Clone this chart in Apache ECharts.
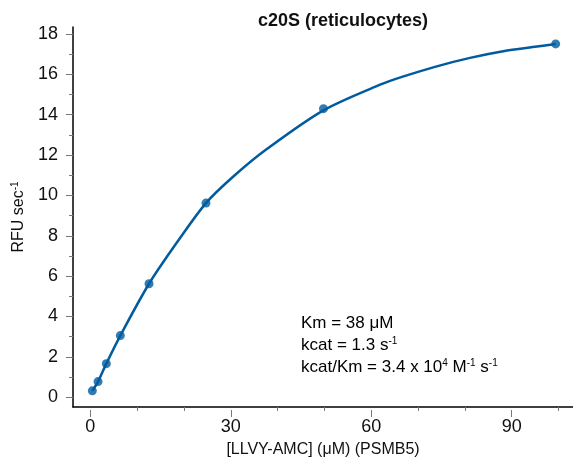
<!DOCTYPE html>
<html>
<head>
<meta charset="utf-8">
<script src="https://cdn.jsdelivr.net/npm/echarts@6/dist/echarts.min.js"></script>
<style>html,body{margin:0;padding:0;background:#fff;}#chart{width:573px;height:463px;}</style>
</head>
<body>
<div id="chart"></div>
<script>
// Measured substrate concentrations (µM) and rates (RFU/s)
const concentrations = [0.43, 1.65, 3.42, 6.41, 12.54, 24.7, 49.8, 99.4];
const rates = [0.31, 0.77, 1.66, 3.05, 5.62, 9.62, 14.30, 17.51];
// Fitted curve
const fitX = [0.43, 1.65, 3.42, 6.41, 12.54, 18.6, 24.7, 30.6, 37.7, 49.8, 61.9, 66.9, 74.0, 81.1, 88.2, 95.4, 99.4];
const fitY = [0.31, 0.77, 1.66, 3.05, 5.62, 7.7, 9.62, 10.95, 12.3, 14.22, 15.49, 15.9, 16.4, 16.82, 17.15, 17.38, 17.51];
// Tick values
const xMajorTicks = [0, 30, 60, 90];
const xMajorStep = 30;
const xMinorTicks = [10, 20, 40, 50, 70, 80, 100];
const yMajorTicks = [0, 2, 4, 6, 8, 10, 12, 14, 16, 18];
const yMinorTicks = [1, 3, 5, 7, 9, 11, 13, 15, 17];

const FONT = 'Liberation Sans';
const BLUE = '#005b9f';
const xMin = -3.7, xMax = 103.1, yMin = -0.49, yMax = 18.35;
const gridLeft = 73, gridRight = 0, gridTop = 27, gridBottom = 53, chartW = 573;
// second grid starts exactly at x = 0 so that interval ticks 0/30/60/90 line up
const zeroPx = gridLeft + (0 - xMin) / (xMax - xMin) * (chartW - gridLeft - gridRight);

// tick customValues skip an exact 0, so nudge it by a negligible amount
const tickVals = (arr) => arr.map(v => (v === 0 ? 1e-6 : v));

const chart = echarts.init(document.getElementById('chart'));
const supStyle = {fontSize: 10, fontFamily: FONT, color: '#111', padding: [0, 0, 8, 0]};
const baseStyle = (fs) => ({fontSize: fs, fontFamily: FONT, color: '#111'});

chart.setOption({
  animation: false,
  backgroundColor: '#fff',
  title: {
    text: 'c20S (reticulocytes)',
    left: 258, top: 12, padding: 0,
    textStyle: {fontFamily: FONT, fontSize: 18, fontWeight: 'bold', color: '#111'}
  },
  grid: [
    {left: gridLeft, top: gridTop, right: gridRight, bottom: gridBottom, containLabel: false},
    {left: zeroPx, top: gridTop, right: gridRight, bottom: gridBottom, containLabel: false}
  ],
  xAxis: [{
    gridIndex: 0, type: 'value', min: xMin, max: xMax, position: 'bottom',
    name: '[LLVY-AMC] (μM) (PSMB5)', nameLocation: 'middle', nameGap: 35,
    nameTextStyle: {fontFamily: FONT, fontSize: 16, color: '#111'},
    axisLine: {show: true, onZero: false, lineStyle: {color: '#000', width: 1.5}},
    axisTick: {show: true, customValues: xMinorTicks, length: 4, lineStyle: {color: '#777', width: 1}},
    axisLabel: {customValues: xMajorTicks, fontFamily: FONT, fontSize: 18, color: '#111', margin: 11},
    splitLine: {show: false}
  }, {
    gridIndex: 1, type: 'value', min: 0, max: xMax, interval: xMajorStep, position: 'bottom',
    axisLine: {show: false, onZero: false},
    axisTick: {show: true, length: 7, lineStyle: {color: '#777', width: 1}},
    axisLabel: {show: false},
    splitLine: {show: false}
  }],
  yAxis: [{
    gridIndex: 0, type: 'value', min: yMin, max: yMax, position: 'left',
    name: '{a|RFU sec}{s|-1}', nameLocation: 'middle', nameGap: 45, nameRotate: 90,
    nameTextStyle: {rich: {a: baseStyle(16), s: supStyle}},
    axisLine: {show: true, onZero: false, lineStyle: {color: '#000', width: 1.5}},
    axisTick: {show: true, customValues: tickVals(yMajorTicks), length: 7, lineStyle: {color: '#777', width: 1}},
    axisLabel: {customValues: yMajorTicks, fontFamily: FONT, fontSize: 18, color: '#111', margin: 15},
    splitLine: {show: false}
  }, {
    gridIndex: 0, type: 'value', min: yMin, max: yMax, position: 'left',
    axisLine: {show: false, onZero: false},
    axisTick: {show: true, customValues: yMinorTicks, length: 4, lineStyle: {color: '#777', width: 1}},
    axisLabel: {show: false},
    splitLine: {show: false}
  }, {
    gridIndex: 1, type: 'value', min: yMin, max: yMax, show: false
  }],
  series: [{
    type: 'line', xAxisIndex: 0, yAxisIndex: 0,
    data: fitX.map((x, i) => [x, fitY[i]]),
    smooth: 0.3, showSymbol: false, symbol: 'none',
    lineStyle: {color: BLUE, width: 2.5}
  }, {
    type: 'scatter', xAxisIndex: 0, yAxisIndex: 0,
    data: concentrations.map((x, i) => [x, rates[i]]),
    symbolSize: 9, itemStyle: {color: BLUE}
  }],
  graphic: [
    {type: 'text', x: 301, y: 323, style: {text: '{a|Km = 38 μM}', rich: {a: baseStyle(17)}, verticalAlign: 'middle'}},
    {type: 'text', x: 301, y: 345, style: {text: '{a|kcat = 1.3 s}{s|-1}', rich: {a: baseStyle(17), s: supStyle}, verticalAlign: 'middle'}},
    {type: 'text', x: 301, y: 367, style: {text: '{a|kcat/Km = 3.4 x 10}{s|4}{a| M}{s|-1}{a| s}{s|-1}', rich: {a: baseStyle(17), s: supStyle}, verticalAlign: 'middle'}}
  ]
});
</script>
</body>
</html>
